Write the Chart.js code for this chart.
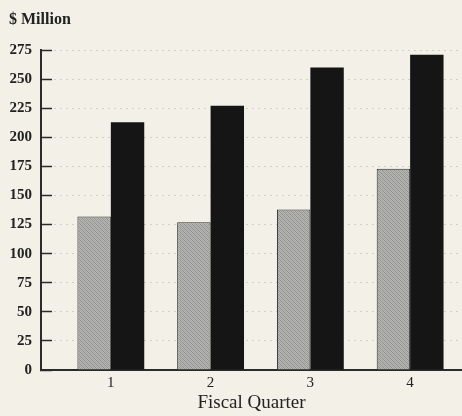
<!DOCTYPE html>
<html>
<head>
<meta charset="utf-8">
<script src="https://cdn.jsdelivr.net/npm/chart.js@4/dist/chart.umd.min.js"></script>
<style>
  html, body { margin: 0; padding: 0; background: #f3f1e7; }
  #wrap { width: 462px; height: 416px; }
</style>
</head>
<body>
<div id="wrap"><canvas id="chart" width="462" height="416"></canvas></div>
<script>
// Quarterly figures, $ million
const quarters = ['1', '2', '3', '4'];
const priorYear = [132, 127, 138, 173];
const currentYear = [213, 227, 260, 271];
const yMax = 275;
const yStep = 25;

// Fine diagonal stipple for the grey bars
function stipple() {
  const c = document.createElement('canvas');
  c.width = 4; c.height = 4;
  const g = c.getContext('2d');
  g.fillStyle = '#b6b6b2';
  g.fillRect(0, 0, 4, 4);
  g.fillStyle = '#909090';
  for (let i = 0; i < 4; i++) g.fillRect(i, i, 1, 1);
  g.fillStyle = '#a4a4a1';
  for (let i = 0; i < 4; i++) g.fillRect((i + 2) % 4, i, 1, 1);
  return g.createPattern(c, 'repeat');
}

const paper = {
  id: 'paper',
  beforeDraw(chart) {
    const ctx = chart.ctx;
    ctx.save();
    ctx.fillStyle = '#f3f1e7';
    ctx.fillRect(0, 0, chart.width, chart.height);
    ctx.restore();
  }
};

const serif = "'Liberation Serif', 'DejaVu Serif', serif";
const ink = '#222';

new Chart(document.getElementById('chart'), {
  type: 'bar',
  data: {
    datasets: [
      {
        label: 'Prior year',
        data: priorYear.map((v, i) => ({ x: i + 1, y: v })),
        backgroundColor: stipple(),
        borderColor: '#2a2a2a',
        borderWidth: 1,
        borderSkipped: 'bottom'
      },
      {
        label: 'Current year',
        data: currentYear.map((v, i) => ({ x: i + 1, y: v })),
        backgroundColor: '#151515',
        borderColor: '#151515',
        borderWidth: 0
      }
    ]
  },
  options: {
    responsive: false,
    animation: false,
    layout: { padding: { left: 9, right: 0, top: 0, bottom: 0 } },
    plugins: {
      legend: { display: false },
      tooltip: { enabled: false },
      title: {
        display: true,
        text: '$ Million',
        align: 'start',
        color: ink,
        font: { family: serif, size: 16, weight: 'bold' },
        padding: { top: 10, bottom: 20.8 }
      }
    },
    datasets: {
      bar: { categoryPercentage: 0.67, barPercentage: 1.0 }
    },
    scales: {
      x: {
        type: 'linear',
        offset: false,
        min: 0.3,
        max: 4.52,
        afterBuildTicks(scale) {
          scale.ticks = quarters.map((q, i) => ({ value: i + 1 }));
        },
        afterFit(scale) { scale.height = 46; },
        grid: { display: true, drawOnChartArea: false, drawTicks: false, offset: false },
        border: { display: true, color: '#2b2b2b', width: 2 },
        ticks: {
          padding: 4,
          color: ink,
          font: { family: serif, size: 15 },
          callback: (v) => quarters[Math.round(v) - 1]
        },
        title: {
          display: true,
          text: 'Fiscal Quarter',
          color: ink,
          font: { family: serif, size: 19 },
          padding: { top: 0, bottom: 2 }
        }
      },
      y: {
        min: 0,
        max: yMax,
        afterFit(scale) { scale.width = 32; },
        grid: {
          color: '#d2d0c6',
          lineWidth: 1,
          drawTicks: true,
          tickLength: -11,
          tickColor: '#2b2b2b',
          tickWidth: 1.5,
          tickBorderDash: []
        },
        // in v4 the dash pattern set here is applied to the grid lines
        border: { display: true, color: '#2b2b2b', width: 2, dash: [2, 4] },
        ticks: {
          stepSize: yStep,
          padding: 20,
          color: ink,
          font: { family: serif, size: 15, weight: 'bold' }
        }
      }
    }
  },
  plugins: [paper]
});
</script>
</body>
</html>
